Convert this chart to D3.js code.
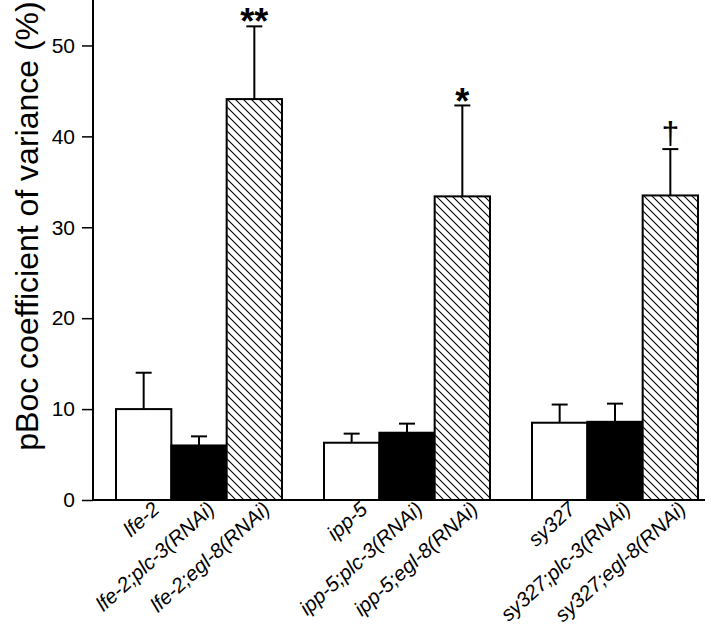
<!DOCTYPE html>
<html>
<head>
<meta charset="utf-8">
<script src="https://cdn.jsdelivr.net/npm/d3@7"></script>
<style>
  html, body { margin: 0; padding: 0; background: #fff; }
  svg { display: block; }
  text { font-family: "Liberation Sans", Arial, sans-serif; }
</style>
</head>
<body>
<script>
// ---- data ----
const groups = ["lfe-2", "ipp-5", "sy327"];
const treatments = ["control", "plc-3", "egl-8"];
const barLabels = [
  ["lfe-2", "lfe-2;plc-3(RNAi)", "lfe-2;egl-8(RNAi)"],
  ["ipp-5", "ipp-5;plc-3(RNAi)", "ipp-5;egl-8(RNAi)"],
  ["sy327", "sy327;plc-3(RNAi)", "sy327;egl-8(RNAi)"]
];
const meanValues = [
  [10.0, 6.0, 44.1],
  [6.3, 7.4, 33.4],
  [8.5, 8.6, 33.5]
];
const errorValues = [
  [4.0, 1.0, 8.0],
  [1.0, 1.0, 10.0],
  [2.0, 2.0, 5.1]
];
const significance = ["**", "*", "\u2020"];
const yTicks = [0, 10, 20, 30, 40, 50];
const yLabel = "pBoc coefficient of variance (%)";

// ---- layout ----
const W = 720, H = 632;
const axisX = 93, baseY = 500, topY = 0;
const svg = d3.select("body").append("svg").attr("width", W).attr("height", H);

const defs = svg.append("defs");
const pat = defs.append("pattern")
  .attr("id", "hatch").attr("patternUnits", "userSpaceOnUse")
  .attr("width", 8).attr("height", 8);
pat.append("rect").attr("width", 8).attr("height", 8).attr("fill", "#fff");
pat.append("path").attr("d", "M-2,-2L10,10M-2,6L2,10M6,-2L10,2")
  .attr("stroke", "#000").attr("stroke-width", 1.1);

const y = d3.scaleLinear().domain([0, 55]).range([baseY, topY]);
const xGroup = d3.scaleBand().domain(groups).range([116, 698]).paddingInner(42 / 208).paddingOuter(0);
const xSub = d3.scaleBand().domain(treatments).range([0, xGroup.bandwidth()]).padding(0);

const fills = { control: "#fff", "plc-3": "#000", "egl-8": "url(#hatch)" };

// flatten
const rows = [];
groups.forEach((g, gi) => treatments.forEach((t, ti) => {
  rows.push({ g, t, gi, ti, label: barLabels[gi][ti], v: meanValues[gi][ti], e: errorValues[gi][ti] });
}));
const cx = d => xGroup(d.g) + xSub(d.t) + xSub.bandwidth() / 2;

// error bars (drawn first, bars cover lower part)
const eb = svg.append("g").attr("stroke", "#000").attr("stroke-width", 2);
eb.selectAll("line.v").data(rows).join("line").attr("class", "v")
  .attr("x1", cx).attr("x2", cx)
  .attr("y1", d => y(d.v)).attr("y2", d => y(d.v + d.e));
eb.selectAll("line.c").data(rows).join("line").attr("class", "c")
  .attr("x1", d => cx(d) - 8).attr("x2", d => cx(d) + 8)
  .attr("y1", d => y(d.v + d.e)).attr("y2", d => y(d.v + d.e));

// bars
svg.append("g").selectAll("rect").data(rows).join("rect")
  .attr("x", d => xGroup(d.g) + xSub(d.t))
  .attr("y", d => y(d.v))
  .attr("width", xSub.bandwidth())
  .attr("height", d => y(0) - y(d.v))
  .attr("fill", d => fills[d.t])
  .attr("stroke", "#000").attr("stroke-width", 2);

// significance markers above egl-8 bars
const sigRows = rows.filter(d => d.t === "egl-8");
svg.append("g").selectAll("text").data(sigRows).join("text")
  .attr("x", cx)
  .attr("y", d => y(d.v + d.e) + (d.gi === 2 ? -5 : (d.gi === 0 ? 8 : 9)))
  .attr("text-anchor", "middle")
  .attr("font-size", d => d.gi === 2 ? 32 : 36)
  .attr("font-weight", d => d.gi === 2 ? "normal" : "bold")
  .text(d => significance[d.gi]);

// y axis
const yAxis = d3.axisLeft(y).tickValues(yTicks).tickSize(11).tickPadding(7).tickSizeOuter(0);
const ya = svg.append("g").attr("transform", `translate(${axisX},0)`).call(yAxis);
ya.select(".domain").remove();
ya.append("line").attr("x1", 0).attr("x2", 0).attr("y1", topY).attr("y2", baseY)
  .attr("stroke", "#000").attr("stroke-width", 2);
ya.selectAll(".tick line").attr("stroke", "#000").attr("stroke-width", 1.5);
ya.selectAll(".tick text").attr("font-size", 21).attr("fill", "#000")
  .attr("font-family", "'Liberation Sans', Arial, sans-serif");

// x axis baseline
svg.append("line").attr("x1", axisX).attr("x2", 705).attr("y1", baseY).attr("y2", baseY)
  .attr("stroke", "#000").attr("stroke-width", 2);

// x labels
svg.append("g").selectAll("text").data(rows).join("text")
  .attr("transform", d => `translate(${cx(d) + 17},${baseY + 11}) rotate(-42)`)
  .attr("text-anchor", "end")
  .attr("font-size", 20.5)
  .attr("font-style", "italic")
  .text(d => d.label);

// y label
svg.append("text")
  .attr("transform", "translate(38,226) rotate(-90)")
  .attr("text-anchor", "middle")
  .attr("font-size", 32)
  .text(yLabel);
</script>
</body>
</html>
